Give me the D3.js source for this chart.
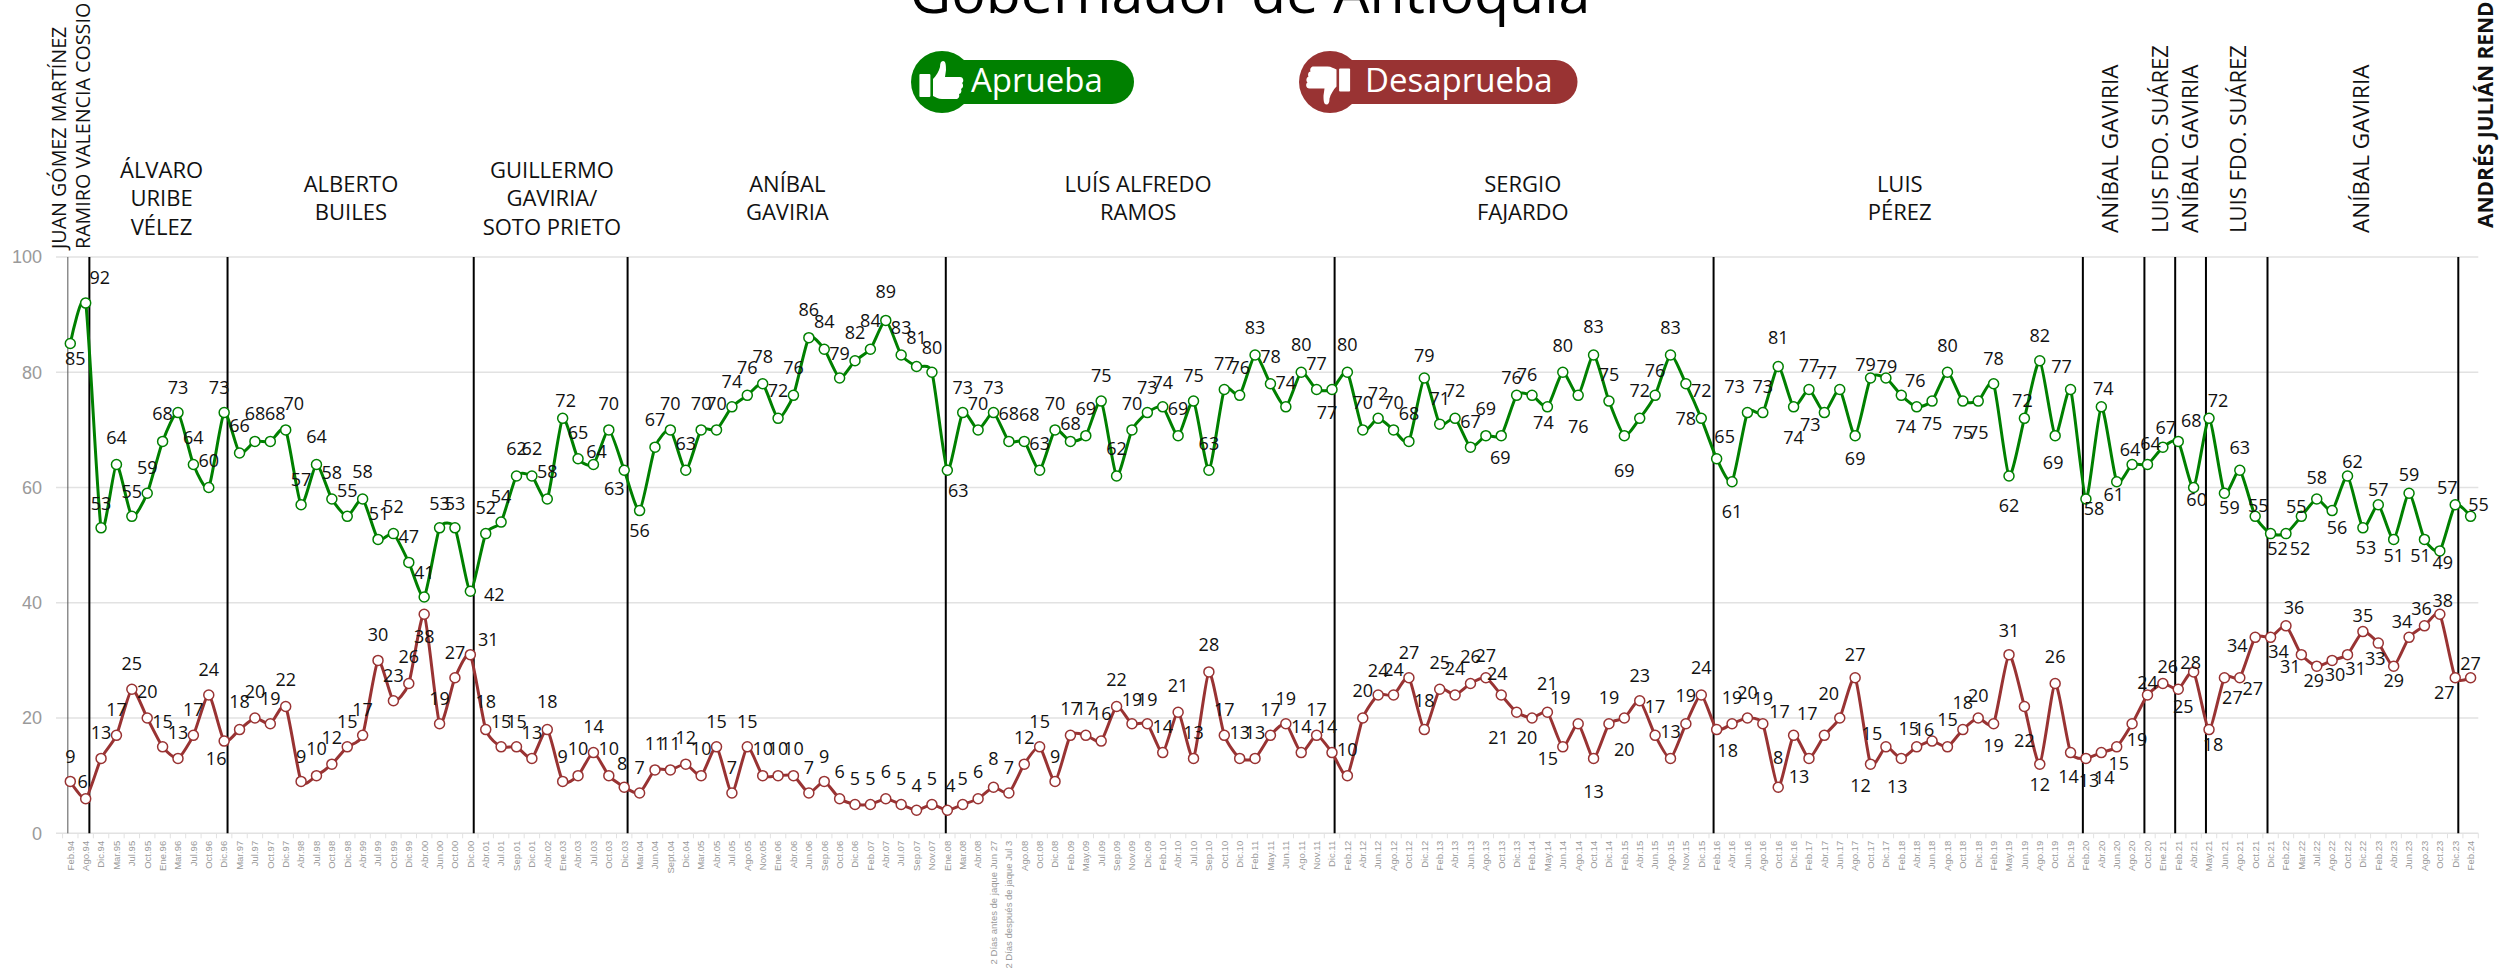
<!DOCTYPE html>
<meta charset="utf-8">

<style>
body { margin: 0; background: #fff; overflow: hidden; }
svg { display: block; font-family: "Open Sans", sans-serif; }
.grid line { stroke: #e2e2e2; stroke-width: 1.5px; }
.y-axis text { fill: #9a9a9a; font-size: 18px; }
.x-axis text { fill: #999; font-size: 9.5px; }
.x-ticks line { stroke: #e2e2e2; stroke-width: 1px; }
.head { fill: #111; font-size: 22px; text-anchor: middle; }
.head-side { fill: #111; text-anchor: start; }
.value-label { fill: #111; font-size: 18px; text-anchor: middle; dominant-baseline: central; }
</style>

<body>
<svg width="2501" height="969"></svg>

<script src="https://d3js.org/d3.v7.min.js"></script>
<script>

// Poll dates, in the order they sit on the axis
var dates = [
  "Feb.94","Ago.94","Dic.94","Mar.95","Jul.95","Oct.95","Ene.96","Mar.96","Jul.96","Oct.96",
  "Dic.96","Mar.97","Jul.97","Oct.97","Dic.97","Abr.98","Jul.98","Oct.98","Dic.98","Abr.99",
  "Jul.99","Oct.99","Dic.99","Abr.00","Jun.00","Oct.00","Dic.00","Abr.01","Jul.01","Sep.01",
  "Dic.01","Abr.02","Ene.03","Abr.03","Jul.03","Oct.03","Dic.03","Mar.04","Jun.04","Sept.04",
  "Dic.04","Mar.05","Abr.05","Jul.05","Ago.05","Nov.05","Ene.06","Abr.06","Jun.06","Sep.06",
  "Oct.06","Dic.06","Feb.07","Abr.07","Jul.07","Sep.07","Nov.07","Ene.08","Mar.08","Abr.08",
  "2 Días antes de jaque Jun 27","2 Días después de jaque Jul 3","Ago.08","Oct.08","Dic.08","Feb.09","May.09","Jul.09","Sep.09","Nov.09",
  "Dic.09","Feb.10","Abr.10","Jul.10","Sep.10","Oct.10","Dic.10","Feb.11","May.11","Jun.11",
  "Ago.11","Nov.11","Dic.11","Feb.12","Abr.12","Jun.12","Ago.12","Oct.12","Dic.12","Feb.13",
  "Abr.13","Jun.13","Ago.13","Oct.13","Dic.13","Feb.14","May.14","Jun.14","Ago.14","Oct.14",
  "Dic.14","Feb.15","Abr.15","Jun.15","Ago.15","Nov.15","Dic.15","Feb.16","Abr.16","Jun.16",
  "Ago.16","Oct.16","Dic.16","Feb.17","Abr.17","Jun.17","Ago.17","Oct.17","Dic.17","Feb.18",
  "Abr.18","Jun.18","Ago.18","Oct.18","Dic.18","Feb.19","May.19","Jun.19","Ago.19","Oct.19",
  "Dic.19","Feb.20","Abr.20","Jun.20","Ago.20","Oct.20","Ene.21","Feb.21","Abr.21","May.21",
  "Jun.21","Ago.21","Oct.21","Dic.21","Feb.22","Mar.22","Jul.22","Ago.22","Oct.22","Dic.22",
  "Feb.23","Abr.23","Jun.23","Ago.23","Oct.23","Dic.23","Feb.24"
];

var aprueba = [
  85,92,53,64,55,59,68,73,64,60,
  73,66,68,68,70,57,64,58,55,58,
  51,52,47,41,53,53,42,52,54,62,
  62,58,72,65,64,70,63,56,67,70,
  63,70,70,74,76,78,72,76,86,84,
  79,82,84,89,83,81,80,63,73,70,
  73,68,68,63,70,68,69,75,62,70,
  73,74,69,75,63,77,76,83,78,74,
  80,77,77,80,70,72,70,68,79,71,
  72,67,69,69,76,76,74,80,76,83,
  75,69,72,76,83,78,72,65,61,73,
  73,81,74,77,73,77,69,79,79,76,
  74,75,80,75,75,78,62,72,82,69,
  77,58,74,61,64,64,67,68,60,72,
  59,63,55,52,52,55,58,56,62,53,
  57,51,59,51,49,57,55
];

var desaprueba = [
  9,6,13,17,25,20,15,13,17,24,
  16,18,20,19,22,9,10,12,15,17,
  30,23,26,38,19,27,31,18,15,15,
  13,18,9,10,14,10,8,7,11,11,
  12,10,15,7,15,10,10,10,7,9,
  6,5,5,6,5,4,5,4,5,6,
  8,7,12,15,9,17,17,16,22,19,
  19,14,21,13,28,17,13,13,17,19,
  14,17,14,10,20,24,24,27,18,25,
  24,26,27,24,21,20,21,15,19,13,
  19,20,23,17,13,19,24,18,19,20,
  19,8,17,13,17,20,27,12,15,13,
  15,16,15,18,20,19,31,22,12,26,
  14,13,14,15,19,24,26,25,28,18,
  27,27,34,34,36,31,29,30,31,35,
  33,29,34,36,38,27,27
];

// Hand placed value labels: px above/below each point, sideways nudges keyed by point number
var apruebaLabelDy = [
  15,-26,-25,-27,-25,-26,-28,-26,-27,-28,
  -26,-28,-28,-28,-27,-26,-28,-27,-26,-28,
  -26,-28,-26,-25,-25,-25,3,-27,-26,-28,
  -28,-28,-18,-27,-13,-27,18,19,-28,-27,
  -27,-27,-27,-26,-28,-28,-28,-28,-29,-28,
  -25,-29,-29,-29,-28,-29,-25,20,-26,-27,
  -26,-28,-27,-27,-27,-18,-28,-26,-28,-27,
  -26,-25,-28,-26,-27,-27,-28,-28,-28,-25,
  -28,-27,22,-28,-28,-25,-28,-28,-23,-26,
  -28,-26,-28,21,-18,-21,15,-27,31,-29,
  -27,34,-28,-25,-28,34,-28,-23,29,-27,
  -27,-29,30,-25,11,-18,22,-14,-12,-15,
  19,22,-27,31,31,-26,29,-18,-26,26,
  -24,9,-19,12,-15,-21,-20,-21,11,-18,
  14,-23,-11,14,14,-10,-22,16,-15,19,
  -16,16,-19,16,11,-18,-12
];
var apruebaLabelDx = {
  1:5,2:14,11:-5,14:5,15:8,21:1,27:24,33:3,35:3,37:-10,58:11,63:5,83:-5,94:-1,95:-5,96:-5,97:-4,
  108:8,110:-13,115:-14,116:-13,118:-5,119:1,120:14,121:-11,128:-2,130:-2,131:-9,132:8,133:2,134:-3,
  135:-2,136:3,137:3,138:13,139:3,140:9,141:5,143:3,144:7,145:14,146:-5,148:5,149:5,150:3,154:-4,
  155:3,156:-8,157:8
};
var desapruebaLabelDy = [
  -25,-18,-26,-26,-26,-27,-26,-26,-26,-26,
  17,-29,-27,-26,-28,-25,-28,-27,-26,-26,
  -26,-26,-27,22,-26,-26,-16,-29,-26,-26,
  -26,-29,-25,-28,-27,-28,-24,-26,-27,-27,
  -27,-28,-26,-26,-26,-28,-28,-28,-26,-25,
  -28,-26,-26,-28,-26,-25,-26,-25,-26,-28,
  -29,-26,-27,-26,-25,-27,-27,-28,-28,-25,
  -25,-27,-27,-26,-28,-26,-26,-26,-26,-26,
  -27,-26,-27,-27,-28,-25,-26,-26,-30,-27,
  -27,-27,-23,-22,25,19,-29,11,-27,33,
  -27,31,-26,-29,-27,-29,-28,20,-27,-26,
  -26,-30,-24,18,-22,-25,-24,21,-14,28,
  -19,-12,-28,-28,-23,21,-25,33,20,-27,
  23,22,24,16,15,-13,-17,17,-10,14,
  19,10,8,14,-19,11,14,14,13,-17,
  15,14,-16,-18,-14,14,-15
];
var desapruebaLabelDx = {
  2:-3,11:-8,27:18,37:-2,58:3,83:-5,94:-4,95:-18,96:-5,98:-15,99:-18,108:11,113:-14,114:-10,115:-17,
  116:-11,118:-10,119:-14,120:-4,121:-8,122:-8,131:-2,132:3,133:3,134:2,135:5,137:5,138:5,139:-3,
  140:4,141:8,142:13,143:-18,144:8,145:8,146:-11,147:-3,148:3,149:8,151:-3,153:-7,154:-3,155:3,156:-11
};

// Change of governor: fractional position along the date axis (0 = first poll)
var dividers = [-0.16,1.24,10.22,26.22,36.22,56.9,82.17,106.8,130.8,134.8,136.8,138.8,142.8,155.2];
var thinDividers = [-0.16];

// Governor names written flat, and where along the axis they are centred
var governors = [
  ["ÁLVARO","URIBE","VÉLEZ"],
  ["ALBERTO","BUILES"],
  ["GUILLERMO","GAVIRIA/","SOTO PRIETO"],
  ["ANÍBAL","GAVIRIA"],
  ["LUÍS ALFREDO","RAMOS"],
  ["SERGIO","FAJARDO"],
  ["LUIS","PÉREZ"]
];
var governorAt = [5.93,18.24,31.3,46.6,69.4,94.4,118.9];

// Governor names written upright
var sideNames = ["JUAN GÓMEZ MARTÍNEZ","RAMIRO VALENCIA COSSIO","ANÍBAL GAVIRIA","LUIS FDO. SUÁREZ","ANÍBAL GAVIRIA","LUIS FDO. SUÁREZ","ANÍBAL GAVIRIA","ANDRÉS JULIÁN RENDÓN"];
var sideAt = [-0.7,0.8,132.6,135.8,137.8,140.9,148.9,157];
var sideSize = [19.7,19.7,22.5,22,22.5,22,22.5,21];

var yTicks = [0,20,40,60,80,100];

var green = "#008000", maroon = "#993333";

var svg = d3.select("svg");

var x = d3.scaleBand().domain(dates).range([62.6, 2478.3]);
var y = d3.scaleLinear().domain([0, 100]).range([833.3, 257]);
var at = d3.scaleLinear().domain([0, dates.length - 1])
    .range([x(dates[0]) + x.bandwidth() / 2, x(dates[dates.length - 1]) + x.bandwidth() / 2]);

// Title, cut by the top of the page like the source image
svg.append("text")
    .attr("x", 1250).attr("y", 13)
    .attr("text-anchor", "middle")
    .attr("font-size", 57.3)
    .attr("fill", "#000")
    .text("Gobernador de Antioquia");

// Legend pills
function pill(cx, right, color, label, labelX, flip) {
  var g = svg.append("g");
  g.append("circle").attr("cx", cx).attr("cy", 82).attr("r", 31).attr("fill", color);
  g.append("rect").attr("x", cx).attr("y", 60)
      .attr("width", right - cx).attr("height", 44).attr("rx", 22)
      .attr("fill", color);
  g.append("text").attr("x", labelX).attr("y", 92)
      .attr("font-size", 33).attr("fill", "#fff").text(label);
  var icon = g.append("g")
      .attr("transform", flip ? "translate(" + (cx - 2.5) + ",83.5) scale(-1,-1)" : "translate(" + cx + ",82)")
      .attr("fill", "#fff");
  icon.append("rect").attr("x", -22.6).attr("y", -8).attr("width", 11).attr("height", 23).attr("rx", 1);
  icon.append("path").attr("d", "M-9,-3 C-6,-6 -3,-11 -2,-15 C-2,-19 -1,-21 1,-21 C4,-21 4,-16 4,-12 L3,-5 L18,-5 C22,-5 22,0 20,1 C22,3 21,6 19,7 C20,9 19,12 17,12 C18,15 16,17 14,17 L0,17 C-4,17 -6,15 -9,14 Z");
}
pill(942, 1134, green, "Aprueba", 971, false);
pill(1330, 1577.5, maroon, "Desaprueba", 1365, true);

// Grid and value axis
svg.append("g").attr("class", "grid")
  .selectAll("line")
  .data(yTicks)
  .enter().append("line")
    .attr("x1", 56).attr("x2", 2478.3)
    .attr("y1", function(d) { return y(d); })
    .attr("y2", function(d) { return y(d); });

var yAxis = svg.append("g").attr("class", "y-axis")
    .attr("transform", "translate(42,0)")
    .call(d3.axisLeft(y).tickValues(yTicks).tickSize(0).tickPadding(0));
yAxis.select(".domain").remove();

// Date axis, ticks fall between the polls
svg.append("g").attr("class", "x-ticks")
  .selectAll("line")
  .data(dates.concat([null]))
  .enter().append("line")
    .attr("x1", function(d) { return d === null ? x.range()[1] : x(d); })
    .attr("x2", function(d) { return d === null ? x.range()[1] : x(d); })
    .attr("y1", y(0)).attr("y2", y(0) + 5);

var xAxis = svg.append("g").attr("class", "x-axis")
    .attr("transform", "translate(0," + y(0) + ")")
    .call(d3.axisBottom(x).tickSize(0));
xAxis.select(".domain").remove();
xAxis.selectAll("text")
    .attr("transform", "rotate(-90)")
    .attr("text-anchor", "end")
    .attr("x", -7.5)
    .attr("y", 0)
    .attr("dy", "0.35em");

// Governor dividers
svg.append("g")
  .selectAll("line")
  .data(dividers)
  .enter().append("line")
    .attr("x1", function(d) { return at(d); })
    .attr("x2", function(d) { return at(d); })
    .attr("y1", y(100)).attr("y2", y(0))
    .attr("stroke", function(d) { return thinDividers.indexOf(d) >= 0 ? "#555" : "#000"; })
    .attr("stroke-width", function(d) { return thinDividers.indexOf(d) >= 0 ? 1 : 2; });

// Governor names
governors.forEach(function(lines, i) {
  var top = lines.length === 3 ? 170 : 184;
  svg.append("g")
    .selectAll("text")
    .data(lines)
    .enter().append("text")
      .attr("class", "head")
      .attr("x", at(governorAt[i]))
      .attr("y", function(d, j) { return top + j * 28.5; })
      .attr("dy", "0.35em")
      .text(function(d) { return d; });
});

svg.append("g")
  .selectAll("text")
  .data(sideNames)
  .enter().append("text")
    .attr("class", "head-side")
    .attr("font-size", function(d, i) { return sideSize[i]; })
    .attr("font-weight", function(d, i) { return i === sideNames.length - 1 ? "bold" : null; })
    .attr("dy", "0.35em")
    .attr("transform", function(d, i) {
      var base = i < 2 ? 249 : (i === sideNames.length - 1 ? 228 : 233);
      return "translate(" + at(sideAt[i]) + "," + base + ") rotate(-90)";
    })
    .text(function(d) { return d; });

// Both series
var line = d3.line()
    .x(function(d, i) { return at(i); })
    .y(function(d) { return y(d); })
    .curve(d3.curveCardinal.tension(0.4));

function drawSeries(values, color, labelDy, labelDx) {
  var g = svg.append("g");

  g.append("path")
      .attr("d", line(values))
      .attr("fill", "none")
      .attr("stroke", color)
      .attr("stroke-width", 3);

  g.selectAll("circle")
    .data(values)
    .enter().append("circle")
      .attr("cx", function(d, i) { return at(i); })
      .attr("cy", function(d) { return y(d); })
      .attr("r", 5)
      .attr("fill", "#fff")
      .attr("stroke", color)
      .attr("stroke-width", 1.5);

  g.selectAll("text")
    .data(values)
    .enter().append("text")
      .attr("class", "value-label")
      .attr("x", function(d, i) { return at(i) + (labelDx[i + 1] || 0); })
      .attr("y", function(d, i) { return y(d) + labelDy[i]; })
      .text(function(d) { return d; });
}

drawSeries(aprueba, green, apruebaLabelDy, apruebaLabelDx);
drawSeries(desaprueba, maroon, desapruebaLabelDy, desapruebaLabelDx);

</script>
</body>
